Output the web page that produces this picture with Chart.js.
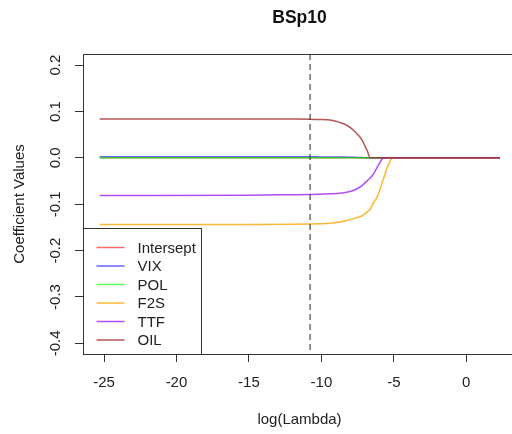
<!DOCTYPE html>
<html>
<head>
<meta charset="utf-8">
<script src="https://cdn.jsdelivr.net/npm/chart.js@4/dist/chart.umd.min.js"></script>
<style>
    html, body { margin: 0; padding: 0; background: #fff; overflow: hidden; }
    #wrap { position: relative; width: 530px; height: 434px; }
</style>
</head>
<body>
<div id="wrap"><canvas id="chart"></canvas></div>
<script>
// log(lambda) grid
const logLambda = [-25.3, -15, -12, -10.8, -10.1, -9.4, -8.7, -8.25, -7.8, -7.45, -7.2, -7.0, -6.83, -6.64, -6.4, -6.15, -5.95, -5.7, -5.45, -5.2, -5.03, -4.5, 2.32];

const intersept = [0, 0, 0, 0, 0, 0, 0, 0, 0, 0, 0, 0, 0, 0, 0, 0, 0, 0, 0, 0, 0, 0, 0];
const vix = [0.0022, 0.0022, 0.0022, 0.0022, 0.0021, 0.002, 0.0018, 0.0016, 0.0012, 0.0009, 0.0006, 0.0003, 0.0001, 0, 0, 0, 0, 0, 0, 0, 0, 0, 0];
const pol = [0, 0, 0, 0, 0, 0, 0, 0, 0, 0, 0, 0, 0, 0, 0, 0, 0, 0, 0, 0, 0, 0, 0];
const f2s = [-0.1437, -0.1435, -0.143, -0.1425, -0.142, -0.141, -0.1385, -0.135, -0.131, -0.128, -0.125, -0.121, -0.1165, -0.111, -0.0965, -0.0845, -0.067, -0.044, -0.0203, -0.004, 0, 0, 0];
const ttf = [-0.081, -0.0805, -0.0795, -0.079, -0.0785, -0.0776, -0.0762, -0.074, -0.0705, -0.065, -0.0597, -0.054, -0.049, -0.0435, -0.0345, -0.0205, -0.0095, 0, 0, 0, 0, 0, 0];
const oil = [0.084, 0.084, 0.0838, 0.0835, 0.0828, 0.0815, 0.076, 0.0703, 0.060, 0.0487, 0.0388, 0.026, 0.015, 0, 0, 0, 0, 0, 0, 0, 0, 0, 0];

const seriesNames = ['Intersept', 'VIX', 'POL', 'F2S', 'TTF', 'OIL'];
const seriesValues = [intersept, vix, pol, f2s, ttf, oil];
const seriesColors = [
    'rgba(255, 0, 0, 0.6)',
    'rgba(0, 0, 255, 0.6)',
    'rgba(0, 255, 0, 0.65)',
    'rgba(255, 165, 0, 0.8)',
    'rgba(160, 32, 240, 0.8)',
    'rgba(165, 42, 42, 0.8)',
];

const xTicks = [-25, -20, -15, -10, -5, 0];
const yTicks = [-0.4, -0.3, -0.2, -0.1, 0, 0.1, 0.2];
const lambdaMin = -10.78;

const chartTitle = 'BSp10';
const FONT = "'Liberation Sans', Arial, Helvetica, sans-serif";
const INK = '#222';

const framePlugin = {
    id: 'frame',
    afterDatasetsDraw(chart) {
        const { ctx, chartArea: a, scales } = chart;
        ctx.save();

        // dashed vertical line at the chosen lambda
        const xv = scales.x.getPixelForValue(lambdaMin);
        ctx.strokeStyle = '#444';
        ctx.lineWidth = 1.2;
        ctx.setLineDash([6, 4]);
        ctx.beginPath();
        ctx.moveTo(xv, a.top);
        ctx.lineTo(xv, a.bottom);
        ctx.stroke();
        ctx.setLineDash([]);

        // plot box
        ctx.strokeStyle = '#333';
        ctx.lineWidth = 1;
        ctx.strokeRect(Math.round(a.left) + 0.5, Math.round(a.top) + 0.5, a.right - a.left, Math.round(a.bottom - a.top));

        // legend in bottom-left corner
        const boxW = 118;
        const boxH = 126;
        const bx = Math.round(a.left) + 0.5;
        const by = Math.round(a.bottom) - boxH + 0.5;
        ctx.fillStyle = '#fff';
        ctx.fillRect(bx, by, boxW, boxH);
        ctx.strokeRect(bx, by, boxW, boxH);
        ctx.font = `15px ${FONT}`;
        ctx.textBaseline = 'middle';
        ctx.textAlign = 'left';
        chart.data.datasets.forEach((ds, i) => {
            const y = by + 19 + i * 18.5;
            ctx.strokeStyle = ds.borderColor;
            ctx.lineWidth = 1.5;
            ctx.beginPath();
            ctx.moveTo(bx + 13, y);
            ctx.lineTo(bx + 41, y);
            ctx.stroke();
            ctx.fillStyle = INK;
            ctx.fillText(ds.label, bx + 54, y + 1);
        });

        // main title
        ctx.font = `bold 17.5px ${FONT}`;
        ctx.textAlign = 'center';
        ctx.fillStyle = '#111';
        ctx.fillText(chartTitle, (a.left + a.right) / 2, 18);

        ctx.restore();
    },
};

new Chart(document.getElementById('chart'), {
    type: 'line',
    data: {
        datasets: seriesNames.map((name, i) => ({
            label: name,
            data: logLambda.map((x, j) => ({ x, y: seriesValues[i][j] })),
            borderColor: seriesColors[i],
            backgroundColor: seriesColors[i],
            borderWidth: 1.5,
            pointRadius: 0,
            cubicInterpolationMode: 'monotone',
            fill: false,
            order: seriesNames.length - i,
        })),
    },
    options: {
        responsive: true,
        maintainAspectRatio: false,
        animation: false,
        events: [],
        layout: {
            padding: { top: 54, right: 14, left: 0, bottom: 0 },
        },
        plugins: {
            legend: { display: false },
            tooltip: { enabled: false },
            title: { display: false },
        },
        scales: {
            x: {
                type: 'linear',
                min: -26.45,
                max: 3.43,
                afterFit: (scale) => { scale.height = 80; },
                afterBuildTicks: (scale) => { scale.ticks = xTicks.map((value) => ({ value })); },
                border: { display: false },
                grid: {
                    drawOnChartArea: false,
                    drawTicks: true,
                    tickLength: 8,
                    color: '#333',
                },
                ticks: {
                    color: INK,
                    padding: 12,
                    maxRotation: 0,
                    font: { family: FONT, size: 15 },
                },
                title: {
                    display: true,
                    text: 'log(Lambda)',
                    color: INK,
                    padding: { top: 0, bottom: 5 },
                    font: { family: FONT, size: 15 },
                },
            },
            y: {
                type: 'linear',
                min: -0.423,
                max: 0.224,
                afterFit: (scale) => { scale.width = 83; },
                afterBuildTicks: (scale) => { scale.ticks = yTicks.map((value) => ({ value })); },
                border: { display: false },
                grid: {
                    drawOnChartArea: false,
                    drawTicks: true,
                    tickLength: 8,
                    color: '#333',
                },
                ticks: {
                    color: INK,
                    padding: 6,
                    minRotation: 90,
                    maxRotation: 90,
                    crossAlign: 'center',
                    font: { family: FONT, size: 15 },
                    callback: (value) => Number(value).toFixed(1),
                },
                title: {
                    display: true,
                    text: 'Coefficient Values',
                    color: INK,
                    padding: { top: 11, bottom: 0 },
                    font: { family: FONT, size: 15 },
                },
            },
        },
    },
    plugins: [framePlugin],
});
</script>
</body>
</html>
